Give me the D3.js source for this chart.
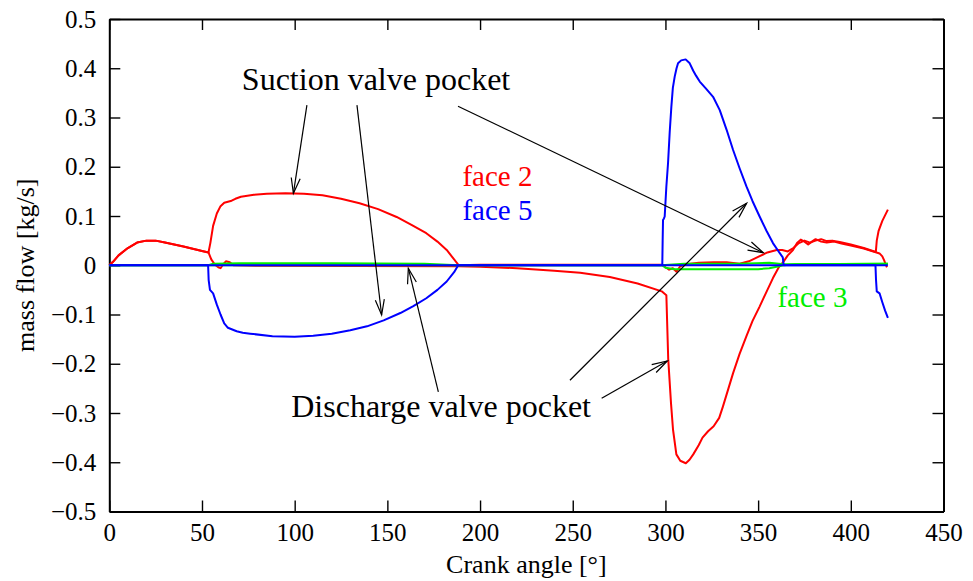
<!DOCTYPE html>
<html>
<head>
<meta charset="utf-8">
<script src="https://cdn.jsdelivr.net/npm/d3@7"></script>
<style>
  body { margin: 0; background: #fff; }
  text { font-family: "Liberation Serif", "Times New Roman", serif; }
</style>
</head>
<body>
<svg id="chart" width="973" height="581"></svg>
<script>
// Axis ticks
const xTicks = [0, 50, 100, 150, 200, 250, 300, 350, 400, 450];
const xTickLabels = ["0", "50", "100", "150", "200", "250", "300", "350", "400", "450"];
const yTicks = [-0.5, -0.4, -0.3, -0.2, -0.1, 0, 0.1, 0.2, 0.3, 0.4, 0.5];
const yTickLabels = ["\u22120.5", "\u22120.4", "\u22120.3", "\u22120.2", "\u22120.1", "0",
                     "0.1", "0.2", "0.3", "0.4", "0.5"];

// Mass flow [kg/s] vs crank angle [deg] — suction valve pocket
const suctionFace2 = [
  [0, 0], [2, 0.007], [5, 0.02], [10, 0.035], [15, 0.046], [20, 0.05], [25, 0.05],
  [30, 0.046], [40, 0.038], [50, 0.029], [53.5, 0.026], [54.5, 0.045], [56, 0.08],
  [58, 0.105], [60, 0.12], [62, 0.127], [64, 0.129], [66, 0.131], [68, 0.135],
  [71, 0.139], [78, 0.143], [85, 0.145], [95, 0.146], [105, 0.145], [115, 0.142],
  [125, 0.135], [135, 0.126], [145, 0.114], [155, 0.098], [163, 0.082], [171, 0.065],
  [177, 0.048], [182, 0.031], [186, 0.012], [188.5, 0], [200, 0.001], [250, 0.001],
  [298, 0.001], [300, -0.004], [302, -0.009], [304, -0.006], [306, -0.013], [308, -0.002],
  [311, 0.002], [318, 0.005], [326, 0.006], [333, 0.006], [340, 0.003], [345, 0.008],
  [350, 0.017], [355, 0.026], [360, 0.031], [363, 0.031], [366, 0.028], [369, 0.035],
  [372, 0.045], [375, 0.05], [378, 0.046], [381, 0.05], [384, 0.053], [387, 0.049],
  [390, 0.05], [394, 0.047], [400, 0.042], [407, 0.035], [413.5, 0.027], [414, 0.05],
  [415, 0.07], [417, 0.09], [420, 0.113]
];
const suctionFace5 = [
  [0, 0], [53.3, 0], [53.6, -0.03], [54.3, -0.05], [56, -0.057], [58, -0.08], [60, -0.1],
  [62, -0.118], [64, -0.127], [66, -0.13], [68.7, -0.134], [72, -0.137], [76, -0.139],
  [88, -0.144], [100, -0.145], [110, -0.143], [120, -0.139], [130, -0.132], [139, -0.124],
  [148, -0.112], [157, -0.097], [164, -0.083], [171, -0.067], [177, -0.05], [182, -0.033],
  [186, -0.014], [188.2, 0], [413.3, 0], [413.6, -0.03], [414, -0.053], [415.5, -0.057],
  [417, -0.075], [418.5, -0.092], [420, -0.107]
];
const suctionFace3 = [
  [0, 0], [53.5, 0], [56, 0.003], [70, 0.004], [120, 0.004], [170, 0.003], [188, 0],
  [298, 0], [310, 0.003], [340, 0.003], [356, 0.005], [363.8, 0.002], [420, 0.003]
];

// Mass flow [kg/s] vs crank angle [deg] — discharge valve pocket
const dischargeFace2 = [
  [0, 0], [2, 0.007], [5, 0.02], [10, 0.035], [15, 0.046], [20, 0.05], [25, 0.05],
  [30, 0.046], [40, 0.038], [50, 0.029], [53.5, 0.026], [55, 0.012], [57, 0.001],
  [58.8, -0.004], [60, -0.006], [61.5, 0.002], [62.9, 0.008], [65, 0.006], [67, 0],
  [80, -0.001], [188, -0.002], [200, -0.003], [220, -0.006], [240, -0.011], [254, -0.015],
  [270, -0.024], [285, -0.037], [298, -0.053], [300.5, -0.061], [301.5, -0.19],
  [303, -0.28], [304.1, -0.334], [305.9, -0.384], [308, -0.397], [311, -0.402],
  [313, -0.395], [315, -0.384], [318, -0.365], [320, -0.35], [323, -0.337], [326, -0.327],
  [329, -0.31], [331, -0.287], [334, -0.25], [336.5, -0.219], [340, -0.18], [343.7, -0.144],
  [347, -0.113], [350.8, -0.084], [354, -0.058], [358, -0.026], [361, -0.005],
  [363.8, 0.008], [366, 0.02], [368.8, 0.031], [371, 0.045], [373, 0.052], [375, 0.048],
  [377, 0.042], [379, 0.048], [381, 0.053], [384, 0.048], [387, 0.046], [391, 0.048],
  [395, 0.044], [400, 0.04], [407, 0.034], [413, 0.027], [415.5, 0.024], [417, 0.018],
  [418, 0.01], [419, 0], [419.5, -0.004]
];
const dischargeFace5 = [
  [0, 0], [298.3, 0], [298.5, 0.05], [298.7, 0.092], [299.2, 0.095], [299.6, 0.099],
  [300.5, 0.16], [301.4, 0.207], [302.3, 0.27], [303.2, 0.322], [304, 0.36], [305, 0.383],
  [306, 0.4], [306.8, 0.41], [308.5, 0.416], [310.9, 0.418], [313.1, 0.41], [315, 0.395],
  [316.5, 0.385], [318.5, 0.373], [322, 0.358], [325.7, 0.342], [329.3, 0.315],
  [333, 0.275], [336.5, 0.234], [340, 0.197], [343.7, 0.16], [347, 0.13], [350.8, 0.099],
  [354.5, 0.07], [358, 0.045], [361.6, 0.025], [363.3, 0.016], [363.8, 0], [420, 0]
];
const dischargeFace3 = [
  [0, 0], [298.4, 0], [300, -0.005], [305, -0.008], [330, -0.008], [350, -0.008],
  [356, -0.006], [360, -0.003], [363.8, 0], [370, 0.002], [420, 0.003]
];

// Callouts: text anchor and arrows (tail -> head), in data units
const suctionLabel = { text: "Suction valve pocket", at: [143.9, 0.356] };
const suctionArrows = [
  [[106.6, 0.325], [99.3, 0.146]],
  [[133.6, 0.325], [146.9, -0.101]],
  [[188.1, 0.323], [352.8, 0.0255]]
];
const dischargeLabel = { text: "Discharge valve pocket", at: [179.0, -0.3075] };
const dischargeArrows = [
  [[177.5, -0.257], [161.3, -0.006]],
  [[248.5, -0.2336], [343.8, 0.1258]],
  [[265.6, -0.270], [301.0, -0.1944]]
];
const faceLabels = [
  { text: "face 2", at: [209.4, 0.16], color: "#ff0000" },
  { text: "face 5", at: [209.4, 0.092], color: "#0000ff" },
  { text: "face 3", at: [379.3, -0.0854], color: "#00ee00" }
];

const serif = '"Liberation Serif", "Times New Roman", serif';
const svg = d3.select("#chart");
const x = d3.scaleLinear().domain([0, 450]).range([109.3, 943.5]);
const y = d3.scaleLinear().domain([-0.5, 0.5]).range([511.5, 19]);

// Frame and axes (ticks pointing inward on all four sides)
const fontSize = 25;
const gx = svg.append("g").attr("transform", `translate(0,${y(-0.5)})`)
  .call(d3.axisBottom(x).tickValues(xTicks).tickFormat((d, i) => xTickLabels[i])
    .tickSizeInner(-11).tickSizeOuter(0).tickPadding(12));
const gy = svg.append("g").attr("transform", `translate(${x(0)},0)`)
  .call(d3.axisLeft(y).tickValues(yTicks).tickFormat((d, i) => yTickLabels[i])
    .tickSizeInner(-11).tickSizeOuter(0).tickPadding(13));
const gt = svg.append("g").attr("transform", `translate(0,${y(0.5)})`)
  .call(d3.axisTop(x).tickValues(xTicks).tickFormat("").tickSizeInner(-11).tickSizeOuter(0));
const gr = svg.append("g").attr("transform", `translate(${x(450)},0)`)
  .call(d3.axisRight(y).tickValues(yTicks).tickFormat("").tickSizeInner(-11).tickSizeOuter(0));

[gx, gy, gt, gr].forEach(g => {
  g.attr("font-family", null);
  g.select(".domain").attr("stroke", "#000").attr("stroke-width", 2);
  g.selectAll(".tick line").attr("stroke", "#000").attr("stroke-width", 1.4);
  g.selectAll("text").attr("font-size", fontSize).attr("fill", "#000")
    .style("font-family", serif);
});

// Axis titles
svg.append("text")
  .attr("x", (x(0) + x(450)) / 2).attr("y", 573)
  .attr("text-anchor", "middle").attr("font-size", 26)
  .style("font-family", serif)
  .text("Crank angle [\u00b0]");
svg.append("text")
  .attr("transform", `translate(34,${y(0)}) rotate(-90)`)
  .attr("text-anchor", "middle").attr("font-size", 26)
  .style("font-family", serif)
  .text("mass flow [kg/s]");

// Curves
const line = d3.line().x(d => x(d[0])).y(d => y(d[1]));
const series = [
  { data: dischargeFace2, color: "#ff0000" },
  { data: suctionFace2, color: "#ff0000" },
  { data: suctionFace3, color: "#00ee00" },
  { data: dischargeFace3, color: "#00ee00" },
  { data: suctionFace5, color: "#0000ff" },
  { data: dischargeFace5, color: "#0000ff" }
];
svg.append("g").selectAll("path").data(series).join("path")
  .attr("d", s => line(s.data))
  .attr("fill", "none")
  .attr("stroke", s => s.color)
  .attr("stroke-width", 2)
  .attr("stroke-linejoin", "round");

// Callout arrows with open heads
function drawArrow(g, tail, head) {
  const x1 = x(tail[0]), y1 = y(tail[1]), x2 = x(head[0]), y2 = y(head[1]);
  const ang = Math.atan2(y2 - y1, x2 - x1);
  const len = 16, spread = Math.PI / 11;
  g.append("line").attr("x1", x1).attr("y1", y1).attr("x2", x2).attr("y2", y2);
  const pts = [
    [x2 - len * Math.cos(ang - spread), y2 - len * Math.sin(ang - spread)],
    [x2, y2],
    [x2 - len * Math.cos(ang + spread), y2 - len * Math.sin(ang + spread)]
  ];
  g.append("path").attr("d", d3.line()(pts)).attr("fill", "none");
}
const ag = svg.append("g").attr("stroke", "#000").attr("stroke-width", 1.2);
suctionArrows.forEach(a => drawArrow(ag, a[0], a[1]));
dischargeArrows.forEach(a => drawArrow(ag, a[0], a[1]));

// Callout texts
[suctionLabel, dischargeLabel].forEach(l => {
  svg.append("text")
    .attr("x", x(l.at[0])).attr("y", y(l.at[1]))
    .attr("text-anchor", "middle").attr("font-size", 32).attr("fill", "#000")
    .style("font-family", serif)
    .text(l.text);
});
faceLabels.forEach(l => {
  svg.append("text")
    .attr("x", x(l.at[0])).attr("y", y(l.at[1]))
    .attr("text-anchor", "middle").attr("font-size", 29).attr("fill", l.color)
    .style("font-family", serif)
    .text(l.text);
});
</script>
</body>
</html>
